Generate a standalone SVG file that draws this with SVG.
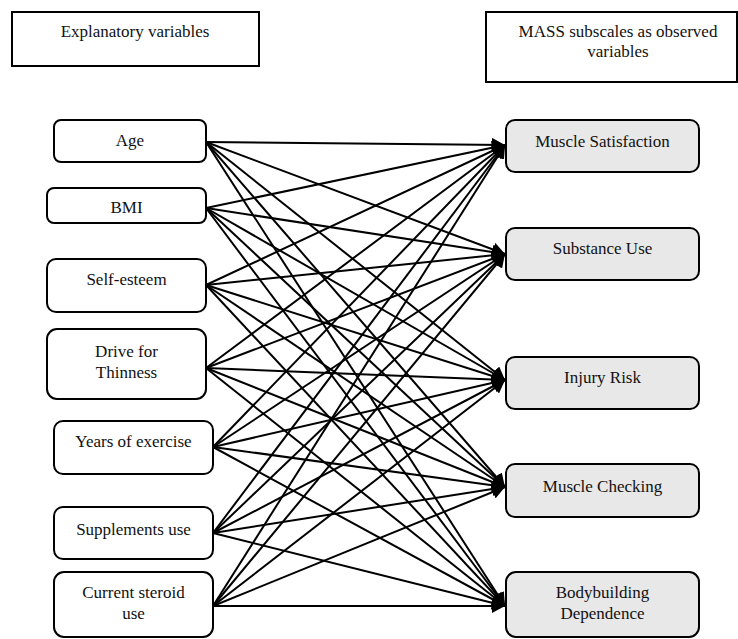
<svg xmlns="http://www.w3.org/2000/svg" width="738" height="639" viewBox="0 0 738 639">
  <style>
    text { font-family: "Liberation Serif", "Times New Roman", "DejaVu Serif", serif; font-size: 17px; fill: #111; text-anchor: middle; }
    .hdr { fill: #fff; stroke: #000; stroke-width: 2; }
    .src { fill: #fff; stroke: #000; stroke-width: 2; }
    .dst { fill: #e8e8e8; stroke: #000; stroke-width: 2; }
    .edge { stroke: #000; stroke-width: 2; fill: none; marker-end: url(#arrow); }
  </style>
  <defs>
    <marker id="arrow" markerUnits="userSpaceOnUse" markerWidth="15" markerHeight="14" refX="13" refY="7" orient="auto">
      <path d="M0,0 L13,7 L0,14 Z" fill="#000"/>
    </marker>
  </defs>

  <rect width="738" height="639" fill="#fff"/>

  <!-- column headers -->
  <g id="header-explanatory">
    <rect class="hdr" x="12" y="12" width="247" height="54"/>
    <text x="135" y="37">Explanatory variables</text>
  </g>
  <g id="header-mass">
    <rect class="hdr" x="486" y="12" width="251" height="70"/>
    <text x="618" y="37">MASS subscales as observed</text>
    <text x="618" y="57">variables</text>
  </g>

  <!-- connectors: every explanatory variable to every subscale -->
  <g id="connectors">
    <line class="edge" x1="206" y1="142" x2="505" y2="145"/>
    <line class="edge" x1="206" y1="142" x2="505" y2="254"/>
    <line class="edge" x1="206" y1="142" x2="505" y2="380"/>
    <line class="edge" x1="206" y1="142" x2="505" y2="487"/>
    <line class="edge" x1="206" y1="142" x2="505" y2="606"/>

    <line class="edge" x1="206" y1="208" x2="505" y2="145"/>
    <line class="edge" x1="206" y1="208" x2="505" y2="254"/>
    <line class="edge" x1="206" y1="208" x2="505" y2="380"/>
    <line class="edge" x1="206" y1="208" x2="505" y2="487"/>
    <line class="edge" x1="206" y1="208" x2="505" y2="606"/>

    <line class="edge" x1="206" y1="285" x2="505" y2="145"/>
    <line class="edge" x1="206" y1="285" x2="505" y2="254"/>
    <line class="edge" x1="206" y1="285" x2="505" y2="380"/>
    <line class="edge" x1="206" y1="285" x2="505" y2="487"/>
    <line class="edge" x1="206" y1="285" x2="505" y2="606"/>

    <line class="edge" x1="206" y1="368" x2="505" y2="145"/>
    <line class="edge" x1="206" y1="368" x2="505" y2="254"/>
    <line class="edge" x1="206" y1="368" x2="505" y2="380"/>
    <line class="edge" x1="206" y1="368" x2="505" y2="487"/>
    <line class="edge" x1="206" y1="368" x2="505" y2="606"/>

    <line class="edge" x1="213" y1="447" x2="505" y2="145"/>
    <line class="edge" x1="213" y1="447" x2="505" y2="254"/>
    <line class="edge" x1="213" y1="447" x2="505" y2="380"/>
    <line class="edge" x1="213" y1="447" x2="505" y2="487"/>
    <line class="edge" x1="213" y1="447" x2="505" y2="606"/>

    <line class="edge" x1="213" y1="533" x2="505" y2="145"/>
    <line class="edge" x1="213" y1="533" x2="505" y2="254"/>
    <line class="edge" x1="213" y1="533" x2="505" y2="380"/>
    <line class="edge" x1="213" y1="533" x2="505" y2="487"/>
    <line class="edge" x1="213" y1="533" x2="505" y2="606"/>

    <line class="edge" x1="213" y1="606" x2="505" y2="145"/>
    <line class="edge" x1="213" y1="606" x2="505" y2="254"/>
    <line class="edge" x1="213" y1="606" x2="505" y2="380"/>
    <line class="edge" x1="213" y1="606" x2="505" y2="487"/>
    <line class="edge" x1="213" y1="606" x2="505" y2="606"/>
  </g>

  <!-- explanatory variables -->
  <g id="age">
    <rect class="src" x="54" y="120" width="152" height="42" rx="7"/>
    <text x="130" y="146">Age</text>
  </g>
  <g id="bmi">
    <rect class="src" x="47" y="188" width="159" height="35" rx="7"/>
    <text x="126.5" y="213">BMI</text>
  </g>
  <g id="self-esteem">
    <rect class="src" x="47" y="259" width="159" height="53" rx="9"/>
    <text x="126.5" y="285">Self-esteem</text>
  </g>
  <g id="drive-for-thinness">
    <rect class="src" x="47" y="329" width="159" height="70" rx="10"/>
    <text x="126.5" y="357">Drive for</text>
    <text x="126.5" y="378">Thinness</text>
  </g>
  <g id="years-of-exercise">
    <rect class="src" x="54" y="421" width="159" height="53" rx="9"/>
    <text x="133.5" y="447">Years of exercise</text>
  </g>
  <g id="supplements-use">
    <rect class="src" x="54" y="507" width="159" height="52" rx="9"/>
    <text x="133.5" y="535">Supplements use</text>
  </g>
  <g id="current-steroid-use">
    <rect class="src" x="54" y="572" width="159" height="65" rx="10"/>
    <text x="133.5" y="598">Current steroid</text>
    <text x="133.5" y="619">use</text>
  </g>

  <!-- MASS subscales -->
  <g id="muscle-satisfaction">
    <rect class="dst" x="506" y="120" width="193" height="52" rx="9"/>
    <text x="602.5" y="147">Muscle Satisfaction</text>
  </g>
  <g id="substance-use">
    <rect class="dst" x="506" y="228" width="193" height="52" rx="9"/>
    <text x="602.5" y="254">Substance Use</text>
  </g>
  <g id="injury-risk">
    <rect class="dst" x="506" y="357" width="193" height="52" rx="9"/>
    <text x="602.5" y="383">Injury Risk</text>
  </g>
  <g id="muscle-checking">
    <rect class="dst" x="506" y="464" width="193" height="53" rx="9"/>
    <text x="602.5" y="492">Muscle Checking</text>
  </g>
  <g id="bodybuilding-dependence">
    <rect class="dst" x="506" y="572" width="193" height="65" rx="10"/>
    <text x="602.5" y="598">Bodybuilding</text>
    <text x="602.5" y="619">Dependence</text>
  </g>
</svg>
